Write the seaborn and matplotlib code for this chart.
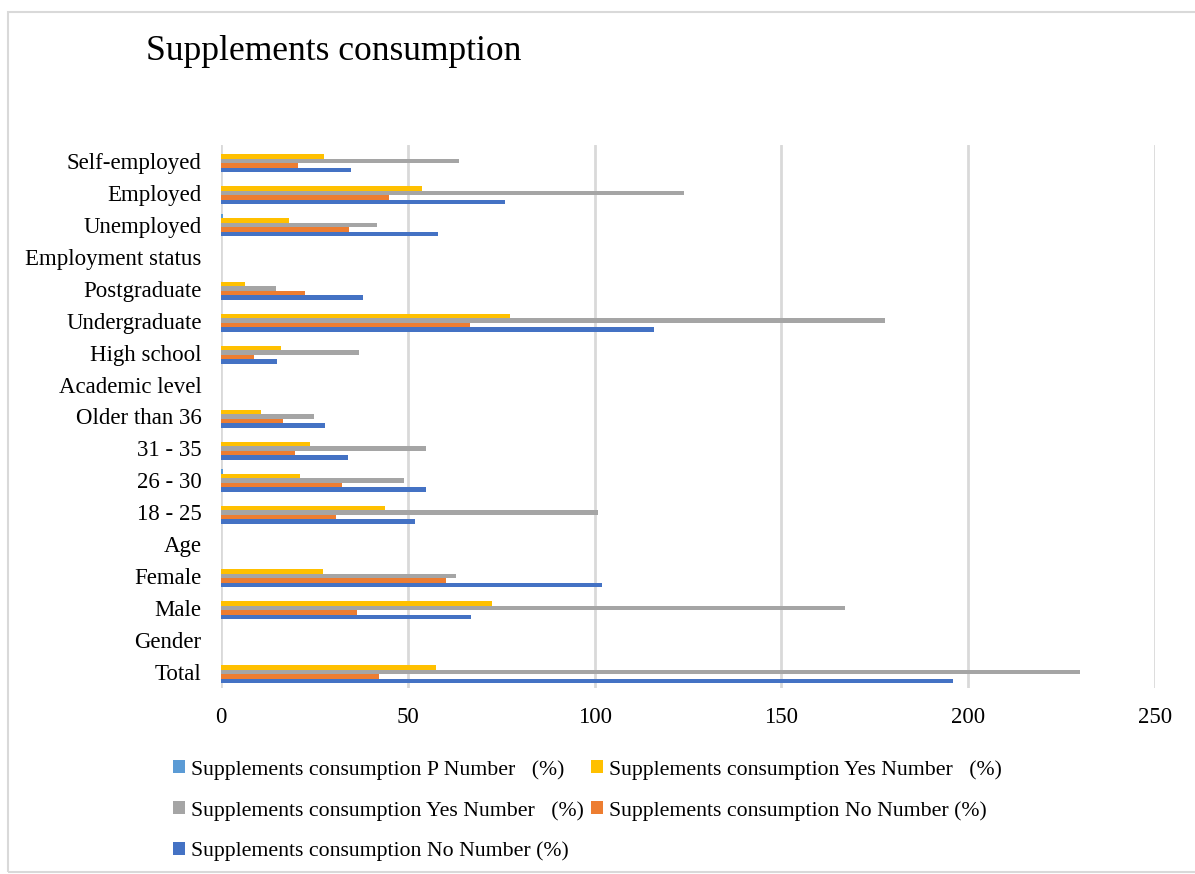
import numpy as np
import pandas as pd
import matplotlib
matplotlib.use("Agg")
import matplotlib.pyplot as plt
from matplotlib.patches import Patch, Rectangle
import seaborn as sns

# Categories, top to bottom; header rows carry no values
categories = [
    "Self-employed", "Employed", "Unemployed", "Employment status",
    "Postgraduate", "Undergraduate", "High school", "Academic level",
    "Older than 36", "31 - 35", "26 - 30", "18 - 25", "Age",
    "Female", "Male", "Gender", "Total",
]

nan = np.nan
p_value = [0.0, 0.0, 0.5, nan, 0.0, 0.0, 0.0, nan, 0.0, 0.0, 0.5, 0.0, nan, 0.0, 0.0, nan, 0.0]
yes_pct = [27.6, 53.9, 18.1, nan, 6.4, 77.3, 16.1, nan, 10.7, 23.8, 21.2, 43.9, nan, 27.3, 72.6, nan, 57.6]
yes_num = [63.8, 123.8, 41.8, nan, 14.8, 177.8, 37.0, nan, 24.9, 54.9, 49.0, 100.9, nan, 62.9, 167.1, nan, 230.0]
no_pct = [20.5, 44.9, 34.2, nan, 22.4, 66.6, 8.9, nan, 16.5, 19.9, 32.4, 30.8, nan, 60.2, 36.5, nan, 42.2]
no_num = [34.9, 75.9, 58.0, nan, 38.0, 115.9, 14.9, nan, 27.9, 33.9, 54.9, 51.9, nan, 102.0, 67.0, nan, 195.9]

series_keys = ["p", "yes_pct", "yes_num", "no_pct", "no_num"]
series_labels = [
    "Supplements consumption P Number   (%)",
    "Supplements consumption Yes Number   (%)",
    "Supplements consumption Yes Number   (%)",
    "Supplements consumption No Number (%)",
    "Supplements consumption No Number (%)",
]
series_colors = ["#5B9BD5", "#FFC000", "#A5A5A5", "#ED7D31", "#4472C4"]
x_ticks = [0, 50, 100, 150, 200, 250]

values = [p_value, yes_pct, yes_num, no_pct, no_num]
rows = []
for key, vals in zip(series_keys, values):
    for cat, v in zip(categories, vals):
        rows.append({"category": cat, "series": key, "value": v})
df = pd.DataFrame(rows)

sns.set_theme(style="white")
serif = ["Liberation Serif", "DejaVu Serif"]
plt.rcParams["font.family"] = serif
plt.rcParams["text.color"] = "black"

fig = plt.figure(figsize=(11.95, 8.74), dpi=100)
ax = fig.add_axes([221 / 1195, 1 - 688 / 874, (1155 - 221) / 1195, (688 - 145) / 874])

sns.barplot(
    data=df, y="category", x="value", hue="series",
    order=categories, hue_order=series_keys,
    palette=dict(zip(series_keys, series_colors)),
    orient="h", width=0.7, errorbar=None, ax=ax, legend=False,
    saturation=1, linewidth=0,
)

ax.set_xlim(0, 250)
ax.set_xticks(x_ticks)
ax.set_xlabel("")
ax.set_ylabel("")
for s in ax.spines.values():
    s.set_visible(False)
ax.grid(axis="x", color="#D9D9D9", linewidth=2)
ax.grid(axis="y", visible=False)
ax.set_axisbelow(True)
ax.tick_params(axis="both", length=0, labelsize=16.5, colors="black")
ax.tick_params(axis="y", pad=14)
ax.tick_params(axis="x", pad=14)

fig.text(146 / 1195, 1 - 52 / 874, "Supplements consumption",
         fontsize=25.6, va="center", ha="left", color="black", family=serif)

# Legend filled column-wise, arranged so it reads row by row
handles = [Patch(facecolor=c, edgecolor="none") for c in series_colors]
order = [0, 2, 4, 1, 3]
fig.legend(
    [handles[i] for i in order], [series_labels[i] for i in order],
    loc="upper left", bbox_to_anchor=(162 / 1195, 1 - 749 / 874),
    ncol=2, frameon=False, fontsize=15.7, borderpad=0,
    handlelength=0.55, handleheight=0.55, handletextpad=0.3,
    columnspacing=0.3, labelspacing=0.97, labelcolor="black",
)

fig.patches.append(Rectangle((8 / 1195, 2 / 874), 1.2, 1 - 14 / 874,
                             transform=fig.transFigure, fill=False,
                             edgecolor="#D9D9D9", linewidth=1.5))

fig.savefig("out.png", dpi=100, facecolor="white")
